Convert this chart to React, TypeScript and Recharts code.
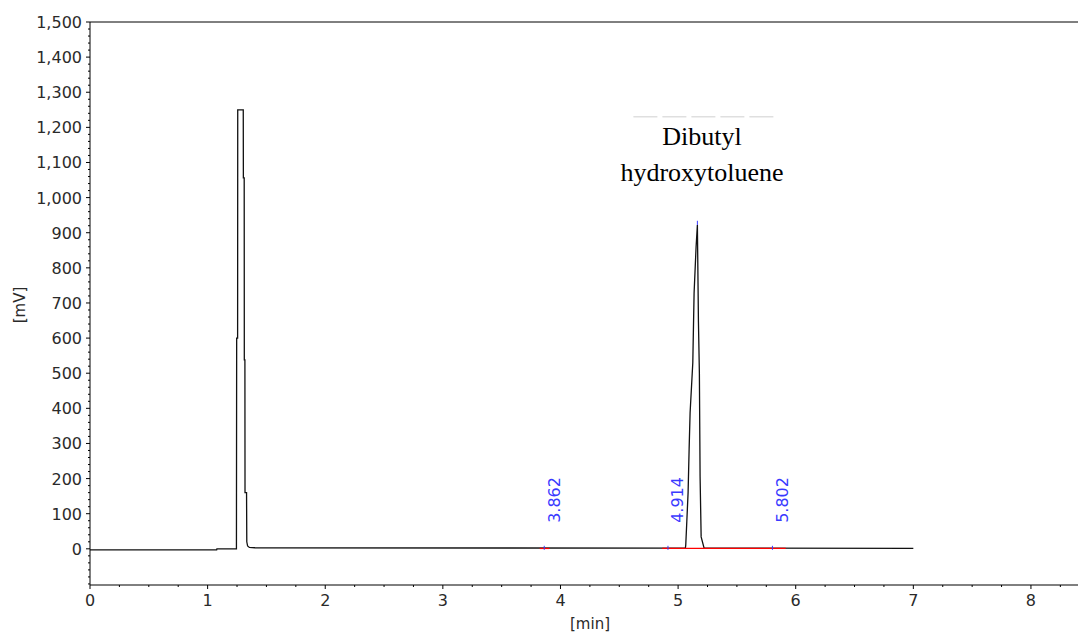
import React from 'react';
import {
  ComposedChart,
  Line,
  Scatter,
  XAxis,
  YAxis,
  ReferenceLine,
} from 'recharts';

// chromatogram trace, time in min / signal in mV
const times = [
  0, 1.077, 1.079, 1.245, 1.247, 1.255, 1.256, 1.303, 1.304, 1.311, 1.312, 1.317,
  1.318, 1.331, 1.333, 1.34, 1.355, 1.403, 5.062, 5.065, 5.074, 5.085, 5.094, 5.102,
  5.125, 5.136, 5.153, 5.164, 5.173, 5.181, 5.187, 5.196, 5.221, 7.0,
];
const signal = [
  -3, -3, 0, 0, 600, 600, 1250, 1250, 1056, 1056, 538, 538,
  160, 160, 20, 8, 4, 3, 2, 10, 77, 160, 287, 387,
  530, 728, 860, 922, 646, 500, 205, 34, 2, 1,
];

// integration marks
const markerTimes = [3.862, 4.914, 5.802];
const markerLabels = ['3.862', '4.914', '5.802'];
const baselineStarts = [3.823, 4.865];
const baselineEnds = [3.906, 5.915];
const apexTime = 5.164;
const apexValue = 922;

const xMajor = [0, 1, 2, 3, 4, 5, 6, 7, 8];
const xTicks = Array.from({ length: 34 }, (_, i) => i * 0.25);
const yTicks = Array.from({ length: 81 }, (_, i) => -100 + i * 20);

const trace = times.map((t, i) => ({ t, v: signal[i] }));
const markers = markerTimes.map((t, i) => ({ t, v: 0, label: markerLabels[i] }));

const FONT = '"DejaVu Sans", sans-serif';
const BLUE = '#3a3aff';

const XTick = ({ x, y, payload }: any) => {
  const major = xMajor.includes(payload.value);
  return (
    <g>
      <line x1={x} x2={x} y1={y} y2={y + (major ? 4 : 2)} stroke="#000" />
      {major && (
        <text x={x} y={y + 21} textAnchor="middle" fontFamily={FONT} fontSize={16} fill="#2a2a2a">
          {payload.value}
        </text>
      )}
    </g>
  );
};

const YTick = ({ x, y, payload }: any) => {
  const major = payload.value % 100 === 0 && payload.value >= 0;
  return (
    <g>
      <line x1={x - (major ? 4 : 2)} x2={x} y1={y} y2={y} stroke="#000" />
      {major && (
        <text x={x - 8} y={y + 6} textAnchor="end" fontFamily={FONT} fontSize={16} fill="#2a2a2a">
          {payload.value.toLocaleString('en-US')}
        </text>
      )}
    </g>
  );
};

const MarkerShape = ({ cx, cy, payload }: any) => (
  <g>
    <line x1={cx} x2={cx} y1={cy - 3} y2={cy + 1} stroke={BLUE} />
    <text
      transform={`translate(${cx + 15.5},${cy - 26}) rotate(-90)`}
      fontFamily={FONT}
      fontSize={16}
      fill={BLUE}
    >
      {payload.label}
    </text>
  </g>
);

export default function App() {
  return (
    <div style={{ position: 'absolute', left: 0, top: 0, background: '#fff' }}>
      <ComposedChart
        width={1078}
        height={636}
        data={trace}
        margin={{ top: 22, right: 0, bottom: 0, left: 0 }}
      >
        <XAxis
          dataKey="t"
          type="number"
          domain={[0, 8.4]}
          ticks={xTicks}
          interval={0}
          tickSize={0}
          tickMargin={0}
          tick={<XTick />}
          axisLine={{ stroke: '#000' }}
          height={51}
          allowDataOverflow
          label={() => (
            <text x={590} y={629} textAnchor="middle" fontFamily={FONT} fontSize={15} fill="#2a2a2a">
              [min]
            </text>
          )}
        />
        <YAxis
          dataKey="v"
          type="number"
          domain={[-103, 1500]}
          ticks={yTicks}
          interval={0}
          tickSize={0}
          tickMargin={0}
          tick={<YTick />}
          axisLine={{ stroke: '#000' }}
          width={90}
          allowDataOverflow
          label={() => (
            <text
              transform="translate(25,305) rotate(-90)"
              textAnchor="middle"
              fontFamily={FONT}
              fontSize={15}
              fill="#2a2a2a"
            >
              [mV]
            </text>
          )}
        />
        <ReferenceLine y={1500} stroke="#000" />
        <ReferenceLine
          segment={[{ x: 4.62, y: 1230 }, { x: 5.825, y: 1230 }]}
          stroke="#cfcfcf"
          strokeDasharray="24 5"
        />
        <Line
          type="linear"
          dataKey="v"
          stroke="#111"
          strokeWidth={1.3}
          dot={false}
          isAnimationActive={false}
        />
        {baselineStarts.map((s, i) => (
          <ReferenceLine
            key={s}
            segment={[{ x: s, y: 1 }, { x: baselineEnds[i], y: 1 }]}
            stroke="#ff0000"
            strokeWidth={1.2}
          />
        ))}
        <ReferenceLine
          segment={[{ x: apexTime, y: apexValue }, { x: apexTime, y: apexValue + 12 }]}
          stroke={BLUE}
        />
        <Scatter data={markers} dataKey="v" shape={<MarkerShape />} isAnimationActive={false} />
        <text x={702} y={145} textAnchor="middle" fontFamily='"Liberation Serif", serif' fontSize={26} fill="#000">
          Dibutyl
        </text>
        <text x={702} y={181} textAnchor="middle" fontFamily='"Liberation Serif", serif' fontSize={26} fill="#000">
          hydroxytoluene
        </text>
      </ComposedChart>
    </div>
  );
}
